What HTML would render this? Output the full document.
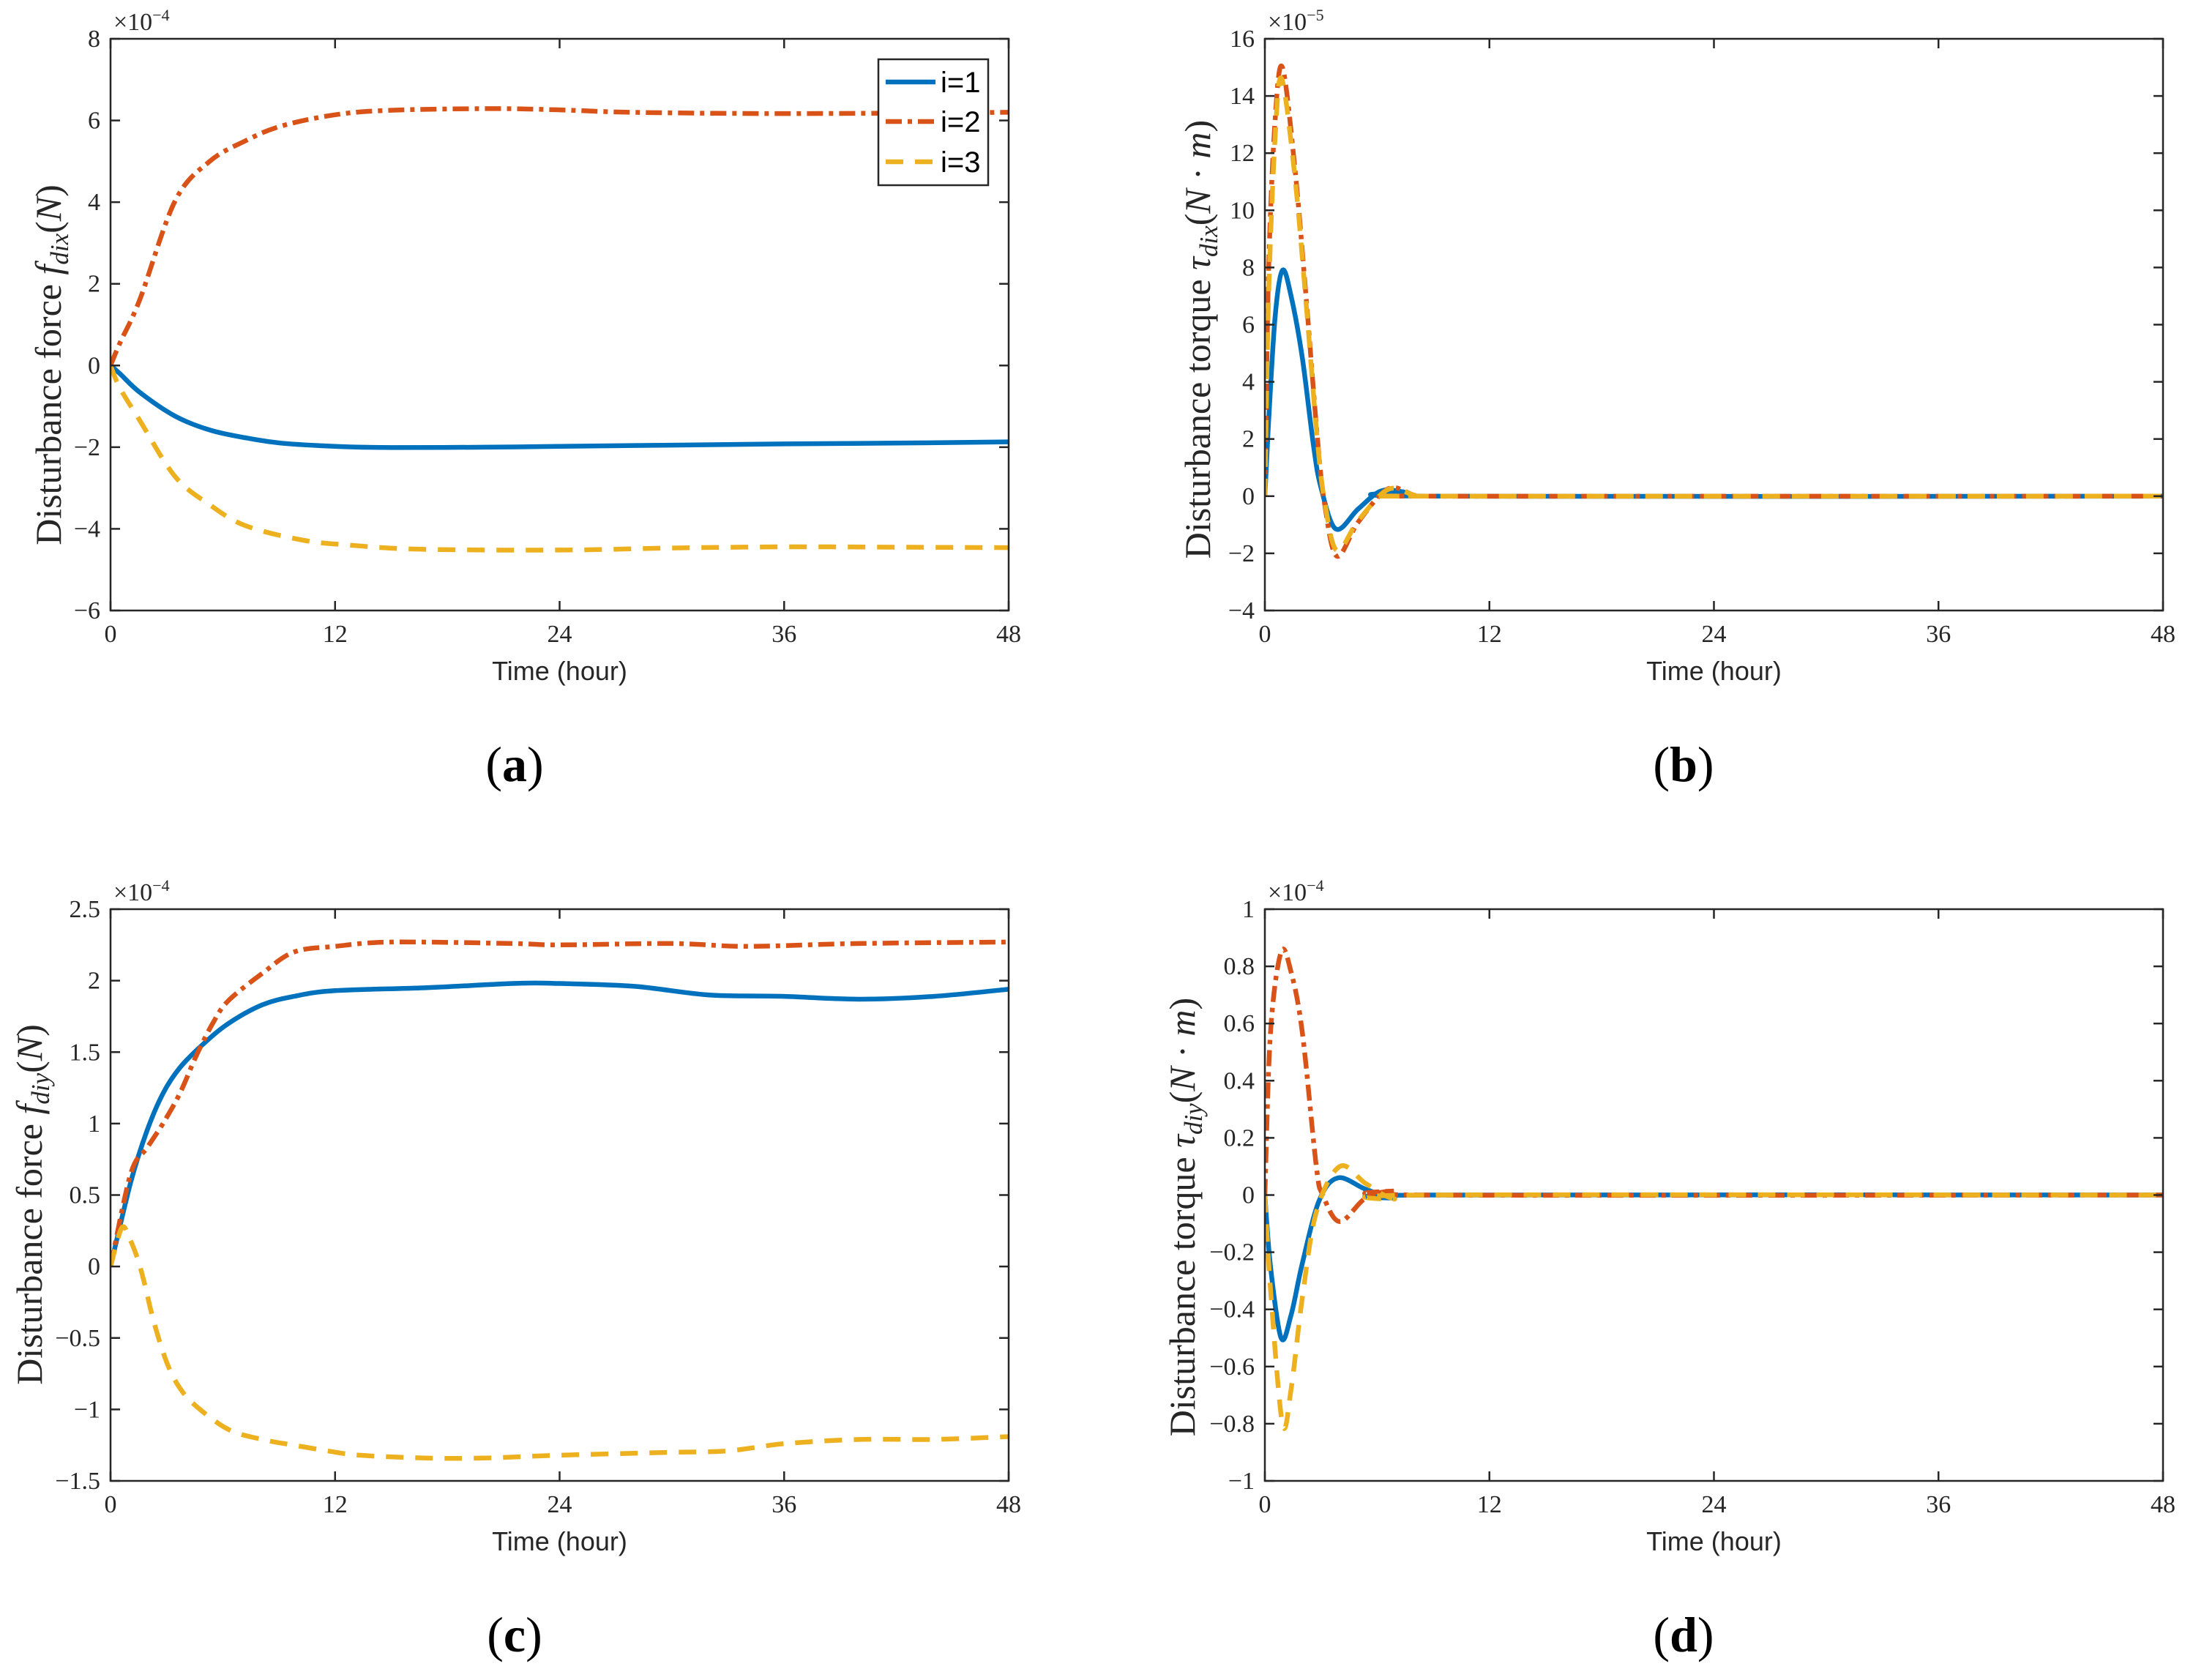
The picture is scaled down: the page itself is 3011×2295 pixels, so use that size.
<!DOCTYPE html>
<html><head><meta charset="utf-8">
<style>
html,body{margin:0;padding:0;background:#fff;}
svg{display:block;}
.tick{font-family:"Liberation Serif",serif;font-size:34px;fill:#262626;}
.xl{font-family:"Liberation Sans",sans-serif;font-size:36px;fill:#262626;}
.yl{font-family:"Liberation Serif",serif;font-size:50px;fill:#262626;}
.sub{font-family:"Liberation Serif",serif;font-size:68px;fill:#000;}
.leg{font-family:"Liberation Sans",sans-serif;font-size:40px;fill:#000;}
</style></head>
<body>
<svg id="fig" width="3011" height="2295" viewBox="0 0 3011 2295" xmlns="http://www.w3.org/2000/svg"></svg>
<script>
// ---- Data ----
const xTicks = [0, 12, 24, 36, 48];
// (a) f_dix, x1e-4
const aT1 = [0, 0.5, 1.57, 3.45, 5.3, 7.2, 9.1, 12, 15, 20, 24, 30, 36, 42, 48];
const aV1 = [0, -0.2, -0.66, -1.24, -1.58, -1.77, -1.9, -1.98, -2.01, -2.0, -1.98, -1.95, -1.92, -1.9, -1.87];
const aT2 = [0, 0.5, 1.57, 3.45, 5.3, 7.2, 9.1, 12, 15, 20.3, 24, 27.8, 35, 42, 48];
const aV2 = [0, 0.55, 1.62, 4.03, 5.0, 5.5, 5.86, 6.14, 6.25, 6.29, 6.26, 6.2, 6.17, 6.18, 6.2];
const aT3 = [0, 0.5, 1.57, 3.45, 5.3, 7.2, 10.2, 12.8, 16.6, 24, 30, 36, 42, 48];
const aV3 = [0, -0.55, -1.35, -2.72, -3.41, -3.92, -4.27, -4.4, -4.5, -4.52, -4.47, -4.44, -4.45, -4.46];
const aYTicks = [-6, -4, -2, 0, 2, 4, 6, 8];
// (b) tau_dix, x1e-5
const bT1 = [0, 0.2, 0.55, 0.94, 1.4, 2, 2.6, 3, 3.8, 5, 6.2, 7.4, 9, 48];
const bV1 = [0, 2.6, 6.3, 7.9, 7.0, 4.85, 1.76, 0.3, -1.15, -0.44, 0.18, 0.15, 0, 0];
const bT2 = [0, 0.2, 0.55, 0.94, 1.6, 2.2, 2.8, 3.2, 3.85, 5, 6.6, 8, 9, 48];
const bV2 = [0, 7.9, 13.2, 15.0, 11.5, 7.0, 2.1, -0.3, -2.1, -0.9, 0.26, 0.03, 0, 0];
const bT3 = [0, 0.2, 0.55, 0.9, 1.6, 2.2, 2.8, 3.2, 3.85, 5, 6.6, 8, 9, 48];
const bV3 = [0, 7.0, 12.6, 14.6, 11.2, 6.8, 2.0, -0.2, -1.9, -0.85, 0.24, 0.03, 0, 0];
const bYTicks = [-4, -2, 0, 2, 4, 6, 8, 10, 12, 14, 16];
// (c) f_diy, x1e-4
const cT1 = [0, 1.08, 1.95, 2.8, 3.7, 4.9, 6.3, 8.1, 9.8, 12, 16.8, 21.5, 24, 28, 32, 36, 40, 44, 48];
const cV1 = [0, 0.59, 0.95, 1.21, 1.39, 1.55, 1.70, 1.83, 1.89, 1.93, 1.95, 1.98, 1.98, 1.96, 1.9, 1.89, 1.87, 1.89, 1.94];
const cT2 = [0, 1.08, 1.95, 2.8, 3.7, 4.6, 5.5, 6.3, 8.1, 9.8, 12, 15, 21.5, 24, 30, 34, 40, 48];
const cV2 = [0, 0.65, 0.83, 1.0, 1.21, 1.48, 1.71, 1.86, 2.05, 2.2, 2.24, 2.27, 2.26, 2.25, 2.26, 2.24, 2.26, 2.27];
const cT3 = [0, 0.6, 1.0, 1.43, 1.8, 2.3, 3.0, 3.7, 4.6, 6.3, 8.1, 9.8, 11.6, 13.3, 16.8, 20, 24, 30, 33, 36, 40, 44, 48];
const cV3 = [0, 0.27, 0.2, 0.06, -0.11, -0.38, -0.67, -0.85, -0.98, -1.14, -1.21, -1.25, -1.29, -1.32, -1.34, -1.34, -1.32, -1.30, -1.29, -1.24, -1.21, -1.21, -1.19];
const cYTicks = [-1.5, -1, -0.5, 0, 0.5, 1, 1.5, 2, 2.5];
// (d) tau_diy, x1e-4
const dT1 = [0, 0.3, 0.87, 1.4, 2, 2.9, 3.9, 5.4, 6.9, 8.8, 48];
const dV1 = [0, -0.25, -0.5, -0.42, -0.24, -0.02, 0.06, 0.02, -0.01, 0, 0];
const dT2 = [0, 0.3, 0.87, 1.4, 2, 2.75, 3.1, 4, 5.4, 6.9, 8.8, 48];
const dV2 = [0, 0.57, 0.85, 0.78, 0.57, 0.1, 0, -0.093, -0.01, 0.014, 0, 0];
const dT3 = [0, 0.3, 0.94, 1.4, 2, 2.75, 4, 5.4, 6.9, 8.8, 48];
const dV3 = [0, -0.33, -0.8, -0.68, -0.36, -0.06, 0.1, 0.04, -0.013, 0, 0];
const dYTicks = [-1, -0.8, -0.6, -0.4, -0.2, 0, 0.2, 0.4, 0.6, 0.8, 1];

const NS = "http://www.w3.org/2000/svg";
const fig = document.getElementById('fig');
const COLORS = ['#0072BD', '#D95319', '#EDB120'];
const DASH = ['', '22 8 6 8', '24 16'];

function mk(tag, attrs, parent) {
  const e = document.createElementNS(NS, tag);
  for (const k in attrs) e.setAttribute(k, attrs[k]);
  (parent || fig).appendChild(e);
  return e;
}
function fmt(v) { return (v < 0 ? '\u2212' : '') + String(Math.abs(v)); }

function panel(cfg) {
  const g = mk('g', {});
  
  
  const L = cfg.left, R = cfg.left + 1227, T = cfg.top, B = cfg.top + 781;
  const sx = t => L + (t - 0) / 48 * (R - L);
  const sy = v => B - (v - cfg.ymin) / (cfg.ymax - cfg.ymin) * (B - T);
  const clip = mk('clipPath', { id: 'clip-' + cfg.name }, g);
  mk('rect', { x: L, y: T, width: R - L, height: B - T }, clip);
  cfg.series.forEach((s, i) => {
    const pts = s[0].map((t, j) => [sx(t), sy(s[1][j])]);
    let d = 'M' + pts[0][0].toFixed(1) + ' ' + pts[0][1].toFixed(1);
    for (let j = 0; j < pts.length - 1; j++) {
      const p0 = pts[Math.max(0, j - 1)], p1 = pts[j], p2 = pts[j + 1], p3 = pts[Math.min(pts.length - 1, j + 2)];
      const c1 = [p1[0] + (p2[0] - p0[0]) / 6, p1[1] + (p2[1] - p0[1]) / 6];
      const c2 = [p2[0] - (p3[0] - p1[0]) / 6, p2[1] - (p3[1] - p1[1]) / 6];
      d += ' C' + c1[0].toFixed(1) + ' ' + c1[1].toFixed(1) + ' ' + c2[0].toFixed(1) + ' ' + c2[1].toFixed(1) + ' ' + p2[0].toFixed(1) + ' ' + p2[1].toFixed(1);
    }
    const p = mk('path', { d: d, fill: 'none', stroke: COLORS[i], 'stroke-width': 6.5, 'clip-path': 'url(#clip-' + cfg.name + ')' }, g);
    if (DASH[i]) p.setAttribute('stroke-dasharray', DASH[i]);
    
    
  });
  const box = mk('rect', { x: L, y: T, width: R - L, height: B - T, fill: 'none', stroke: '#262626', 'stroke-width': 2.5 }, g);
  
  
  xTicks.forEach(t => {
    const x = sx(t);
    mk('line', { x1: x, x2: x, y1: B, y2: B - 13, stroke: '#262626', 'stroke-width': 2.5 }, g);
    mk('line', { x1: x, x2: x, y1: T, y2: T + 13, stroke: '#262626', 'stroke-width': 2.5 }, g);
    const tx = mk('text', { x: x, y: B + 43, 'text-anchor': 'middle', class: 'tick' }, g);
    tx.textContent = String(t);
    
    
  });
  cfg.yticks.forEach(v => {
    const y = sy(v);
    mk('line', { x1: L, x2: L + 13, y1: y, y2: y, stroke: '#262626', 'stroke-width': 2.5 }, g);
    mk('line', { x1: R, x2: R - 13, y1: y, y2: y, stroke: '#262626', 'stroke-width': 2.5 }, g);
    const tx = mk('text', { x: L - 14, y: y + 11, 'text-anchor': 'end', class: 'tick' }, g);
    tx.textContent = fmt(v);
    
    
  });
  const ex = mk('text', { x: L + 4, y: T - 12, class: 'tick' }, g);
  ex.innerHTML = '\u00d710<tspan dy="-13" font-size="22">\u2212' + cfg.exp + '</tspan>';
  
  
  const xl = mk('text', { x: (L + R) / 2, y: B + 95, 'text-anchor': 'middle', class: 'xl' }, g);
  xl.textContent = 'Time (hour)';
  
  
  const yl = mk('text', { x: 0, y: 0, 'text-anchor': 'middle', class: 'yl', transform: 'translate(' + (cfg.ylx + 17) + ',' + ((T + B) / 2 + cfg.yoff) + ') rotate(-90)' }, g);
  yl.innerHTML = cfg.ylab;
  
  
  const sl = mk('text', { x: cfg.subx, y: B + 233, 'text-anchor': 'middle', class: 'sub' }, g);
  sl.innerHTML = '(<tspan font-weight="bold">' + cfg.letter + '</tspan>)';
  
  
  return { g, L, R, T, B };
}

const it = '<tspan font-style="italic">';
panel({ name: 'panel-a', left: 151, top: 53, ymin: -6, ymax: 8, yticks: aYTicks, exp: 4, ylx: 66, yoff: 55, subx: 703, letter: 'a',
  ylab: 'Disturbance force ' + it + 'f</tspan><tspan font-style="italic" font-size="35" dy="10">dix</tspan><tspan dy="-10">(</tspan>' + it + 'N</tspan>)',
  series: [[aT1, aV1], [aT2, aV2], [aT3, aV3]] });
panel({ name: 'panel-b', left: 1728, top: 53, ymin: -4, ymax: 16, yticks: bYTicks, exp: 5, ylx: 1636, yoff: 20, subx: 2300, letter: 'b',
  ylab: 'Disturbance torque ' + it + '\u03c4</tspan><tspan font-style="italic" font-size="35" dy="10">dix</tspan><tspan dy="-10">(</tspan>' + it + 'N</tspan> \u00b7 ' + it + 'm</tspan>)',
  series: [[bT1, bV1], [bT2, bV2], [bT3, bV3]] });
panel({ name: 'panel-c', left: 151, top: 1242, ymin: -1.5, ymax: 2.5, yticks: cYTicks, exp: 4, ylx: 40, yoff: 13, subx: 703, letter: 'c',
  ylab: 'Disturbance force ' + it + 'f</tspan><tspan font-style="italic" font-size="35" dy="10">diy</tspan><tspan dy="-10">(</tspan>' + it + 'N</tspan>)',
  series: [[cT1, cV1], [cT2, cV2], [cT3, cV3]] });
panel({ name: 'panel-d', left: 1728, top: 1242, ymin: -1, ymax: 1, yticks: dYTicks, exp: 4, ylx: 1615, yoff: 30, subx: 2300, letter: 'd',
  ylab: 'Disturbance torque ' + it + '\u03c4</tspan><tspan font-style="italic" font-size="35" dy="10">diy</tspan><tspan dy="-10">(</tspan>' + it + 'N</tspan> \u00b7 ' + it + 'm</tspan>)',
  series: [[dT1, dV1], [dT2, dV2], [dT3, dV3]] });

const lg = mk('g', {});


mk('rect', { x: 1200, y: 81, width: 150, height: 172, fill: '#fff', stroke: '#262626', 'stroke-width': 2.5 }, lg);
const legLabels = ['i=1', 'i=2', 'i=3'];
const legY = [112, 166, 221];
legLabels.forEach((lab, i) => {
  const ln = mk('line', { x1: 1210, x2: 1278, y1: legY[i], y2: legY[i], stroke: COLORS[i], 'stroke-width': 6.5 }, lg);
  if (DASH[i]) ln.setAttribute('stroke-dasharray', DASH[i]);
  
  
  const t = mk('text', { x: 1285, y: legY[i] + 14, class: 'leg' }, lg);
  t.textContent = lab;
  
  
});
</script>
</body></html>
